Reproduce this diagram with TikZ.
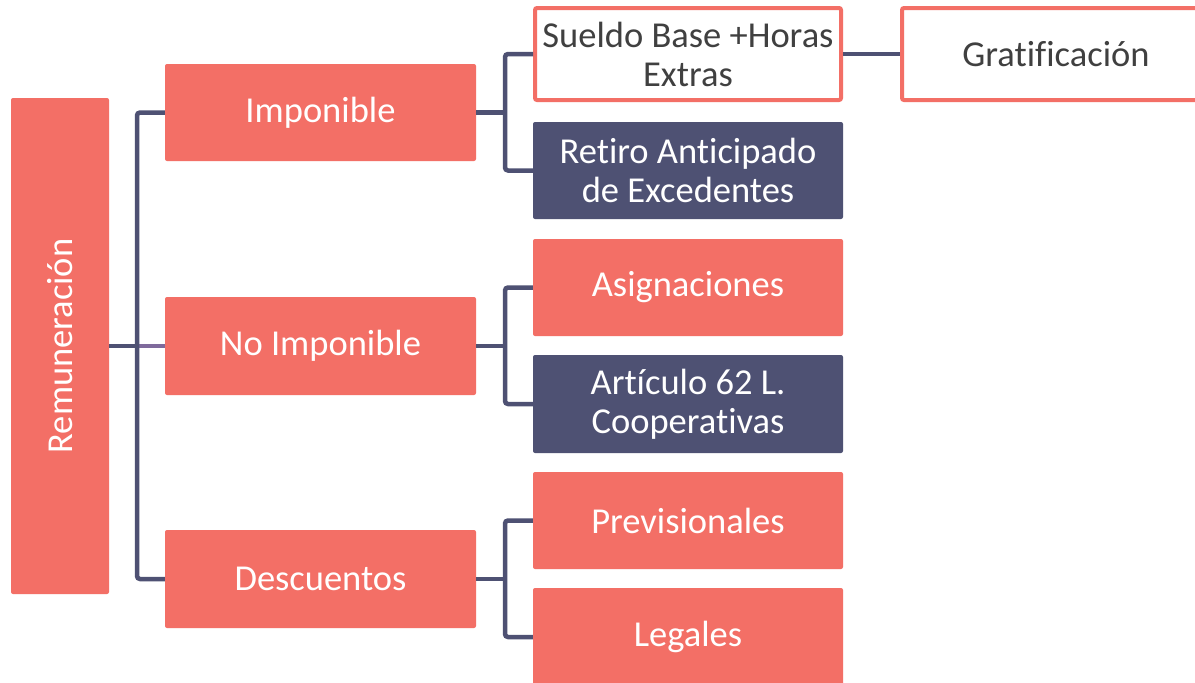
\documentclass[tikz,border=0pt]{standalone}
\usepackage{fontspec}
\setmainfont{Carlito}[RawFeature={-liga;-clig;-dlig;-calt}]
\definecolor{coral}{HTML}{F36F66}
\definecolor{navy}{HTML}{4E5173}
\definecolor{lilac}{HTML}{7F6A9C}
\definecolor{txt}{HTML}{404040}
\begin{document}
\begin{tikzpicture}[x=1pt,y=-1pt,
  fbox/.style={fill=coral, draw=none, rounded corners=2pt, text=white, align=center,
    minimum width=311pt, minimum height=97pt, inner sep=0pt,
    font=\fontsize{36.5}{39}\selectfont},
  dbox/.style={fbox, fill=navy, minimum width=310pt},
  wbox/.style={fill=white, draw=coral, line width=4pt, rounded corners=2pt, text=txt, align=center,
    minimum width=306pt, minimum height=92pt, inner sep=0pt,
    font=\fontsize{36.5}{39}\selectfont},
  conn/.style={draw=navy, line width=4.5pt, rounded corners=3pt},
  connp/.style={draw=lilac, line width=4.5pt}]
\useasboundingbox (0,0) rectangle (1195,683);
\fill[white] (0,0) rectangle (1195,683);
% level 0
\node[fbox, rotate=90, minimum width=496pt, minimum height=98pt] (rem) at (60,346) {Remuneración};
% level 1
\node[fbox] (imp) at (320.5,112.5) {Imponible};
\node[fbox, minimum height=98pt] (noimp) at (320.5,346) {No Imponible};
\node[fbox, minimum height=98pt] (desc) at (320.5,579) {Descuentos};
% level 2
\node[wbox] (sueldo) at (688,54) {Sueldo Base +Horas\\Extras};
\node[wbox, minimum width=308pt] (grat) at (1056,54) {Gratificación};
\node[dbox] (retiro) at (688,170.5) {Retiro Anticipado\\de Excedentes};
\node[fbox, minimum width=310pt] (asig) at (688,287.5) {Asignaciones};
\node[dbox, minimum height=98pt] (art) at (688,404) {Artículo 62 L.\\Cooperativas};
\node[fbox, minimum width=310pt] (prev) at (688,520.5) {Previsionales};
\node[fbox, minimum width=310pt, minimum height=98pt] (leg) at (688,637) {Legales};
% connector junctions
\coordinate (t0) at (137,346);
\coordinate (t1) at (505,112.5);
\coordinate (t2) at (505,346);
\coordinate (t3) at (505,579);
% connectors
\draw[connp] (t0) -- (noimp.west);
\draw[conn] (rem.south) -- (t0);
\draw[conn] (imp.west) -| (t0) |- (desc.west);
\draw[conn] (imp.east) -- (t1);
\draw[conn] (sueldo.west) -| (t1) |- (retiro.west);
\draw[conn] (noimp.east) -- (t2);
\draw[conn] (asig.west) -| (t2) |- (art.west);
\draw[conn] (desc.east) -- (t3);
\draw[conn] (prev.west) -| (t3) |- (leg.west);
\draw[conn] (sueldo.east) -- (grat.west);
\end{tikzpicture}
\end{document}
